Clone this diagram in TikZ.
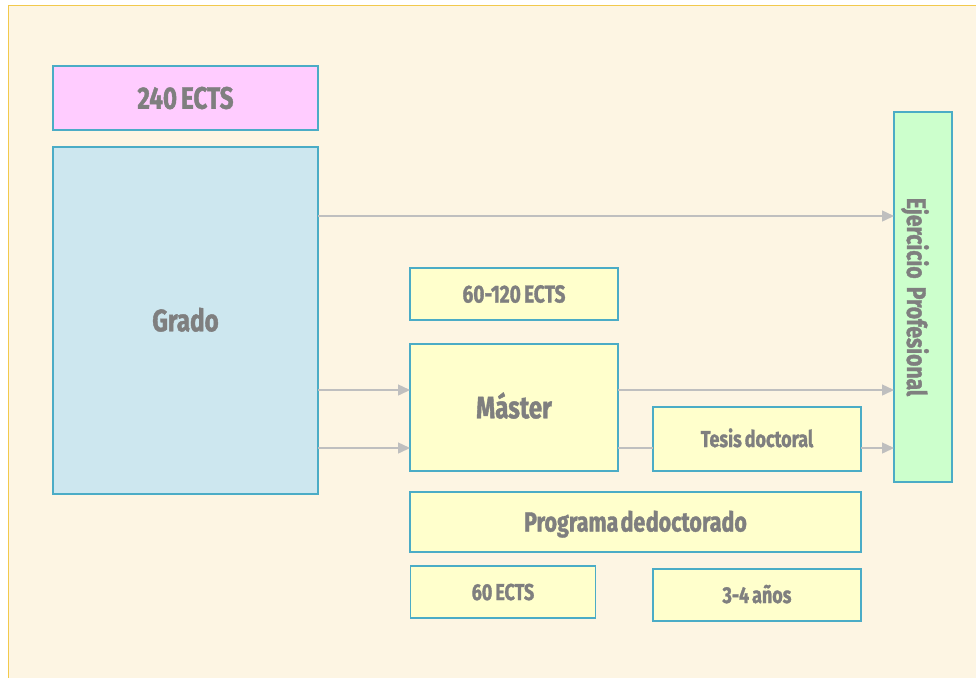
\documentclass[tikz,border=0pt]{standalone}
\usepackage{fontspec}
\usetikzlibrary{arrows.meta}
\newfontfamily\lab{Fira Sans}[FakeStretch=0.78,WordSpace=0.7,BoldFeatures={FakeBold=1.3}]
\definecolor{bgc}{HTML}{FDF5E3}
\definecolor{bgline}{HTML}{F2C94C}
\definecolor{bordc}{HTML}{4BACC6}
\definecolor{txtc}{HTML}{7F7F7F}
\definecolor{pinkc}{HTML}{FFCCFF}
\definecolor{bluec}{HTML}{CDE7EF}
\definecolor{greenc}{HTML}{CCFFCC}
\definecolor{yelc}{HTML}{FFFFCC}
\definecolor{arrc}{HTML}{BFBFBF}
\tikzset{
  box/.style={draw=bordc, line width=1.2pt, inner sep=0pt, outer sep=0pt, text=txtc, align=center},
  fsz/.style 2 args={font=\lab\bfseries\fontsize{#1}{#1}\selectfont, text height=#2, text depth=0pt},
  arr/.style={draw=arrc, line width=1.4pt, -{Triangle[length=12pt,width=11pt]}},
  ln/.style={draw=arrc, line width=1.4pt}
}
\begin{document}
\begin{tikzpicture}[x=1pt,y=-1pt]
\useasboundingbox (0,0) rectangle (976,678);
\fill[bgc] (8.5,5.5) rectangle (976,678);
\draw[bgline, line width=1.5pt] (8.5,678) -- (8.5,5.5) -- (976,5.5);

\node[box, fill=pinkc, minimum width=265pt, minimum height=64pt, fsz={31pt}{21.5pt}] (e240) at (185.5,98) {240 ECTS};
\node[box, fill=bluec, minimum width=265pt, minimum height=347pt, fsz={31pt}{21.5pt}] (grado) at (185.5,320.5) {Grado};
\node[box, fill=greenc, rotate=-90, minimum width=370pt, minimum height=58pt, fsz={27pt}{32pt}] (ejer) at (923,297) {Ejercicio\hspace{0.3em}Profesional};
\node[box, fill=yelc, minimum width=208pt, minimum height=52pt, fsz={24.5pt}{17pt}] (m120) at (514,294) {60-120 ECTS};
\node[box, fill=yelc, minimum width=208pt, minimum height=127pt, fsz={31pt}{21.5pt}] (master) at (514,407.5) {Máster};
\node[box, fill=yelc, minimum width=208pt, minimum height=64pt, fsz={23pt}{16pt}] (tesis) at (757,439) {Tesis doctoral};
\node[box, fill=yelc, minimum width=451pt, minimum height=60pt, fsz={27.5pt}{19pt}] (prog) at (635.5,522) {{\spaceskip=0.08em Programa de\hspace{0.02em}doctorado}};
\node[box, fill=yelc, minimum width=185pt, minimum height=52pt, fsz={23pt}{16pt}] (e60) at (503,592) {60 ECTS};
\node[box, fill=yelc, minimum width=208pt, minimum height=52pt, fsz={23pt}{16pt}] (anos) at (757,595) {3-4 años};

\draw[arr] (grado.east |- 0,216) -- (ejer.south |- 0,216);
\draw[arr] (grado.east |- 0,390) -- (master.west |- 0,390);
\draw[arr] (grado.east |- 0,448) -- (master.west |- 0,448);
\draw[arr] (master.east |- 0,390) -- (ejer.south |- 0,390);
\draw[ln] (master.east |- 0,448) -- (tesis.west |- 0,448);
\draw[arr] (tesis.east |- 0,448) -- (ejer.south |- 0,448);
\end{tikzpicture}
\end{document}
